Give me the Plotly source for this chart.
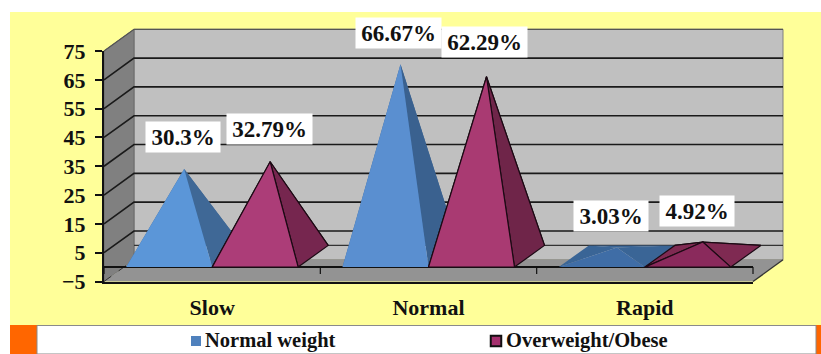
import plotly.graph_objects as go

categories = ["Slow", "Normal", "Rapid"]
normal_weight = [30.3, 66.67, 3.03]
overweight = [32.79, 62.29, 4.92]
normal_labels = ["30.3%", "66.67%", "3.03%"]
overweight_labels = ["32.79%", "62.29%", "4.92%"]
legend_names = ["Normal weight", "Overweight/Obese"]
y_ticks = [-5, 5, 15, 25, 35, 45, 55, 65, 75]

W, H = 821, 354
L, R, T, B = 104, 753, 51, 281.5
UX = (R - L) / 3                 # px per category
UY = (B - T) / 80                # px per value unit
DX = 30 / UX                     # depth in category units
DY = 21.7 / UY                   # depth in value units
BAR = 0.3975
FLOOR = y_ticks[0]
TOP = y_ticks[-1]
SERIF = "Liberation Serif"
INK = "#111111"


def px_x(p):
    return (p - L) / UX


def px_y(p):
    return FLOOR + (B - p) / UY


blue = dict(front=["#5b96d8", "#5a8fd0", "#3f6da6"], side=["#3f6896", "#3a618f", "#3a6596"],
            back=["#3a6596"] * 3, edge=None)
magenta = dict(front=["#ac3d78", "#a93a72", "#8a2a5c"], side=["#76264f", "#6f2549", "#7f2a52"],
               back=["#7f2a52"] * 3, edge="#1c0a14")

fig = go.Figure()


def poly(xs, ys, fill, edge=None, width=1.2):
    fig.add_trace(go.Scatter(
        x=xs + xs[:1], y=ys + ys[:1], mode="lines", fill="toself", fillcolor=fill,
        line=dict(color=edge or fill, width=width if edge else 0),
        hoverinfo="skip", showlegend=False))


def seg(xs, ys, color="#1a1a1a", width=1.6, dash="solid"):
    fig.add_trace(go.Scatter(
        x=xs, y=ys, mode="lines", line=dict(color=color, width=width, dash=dash),
        hoverinfo="skip", showlegend=False))


# walls and floor
poly([DX, 3 + DX, 3 + DX, DX], [FLOOR + DY, FLOOR + DY, TOP + DY, TOP + DY], "#c0c0c0", "#808080", 1)
poly([0, DX, DX, 0], [FLOOR, FLOOR + DY, TOP + DY, TOP], "#808080", "#6a6a6a", 1)
poly([0, 3, 3 + DX, DX], [FLOOR, FLOOR, FLOOR + DY, FLOOR + DY], "#939393")

# gridlines on side and back walls
for t in y_ticks[1:-1]:
    seg([0, DX, 3 + DX], [t, t + DY, t + DY])
seg([0, DX, 3 + DX], [TOP, TOP + DY, TOP + DY], "#555555", 1.2)
seg([DX, 3 + DX], [DY, DY], "#333333", 1.4)
seg([0, DX], [FLOOR, FLOOR + DY], "#333333", 1, "dash")
seg([3, 3 + DX], [FLOOR, FLOOR + DY], "#333333", 1.4)

# zero line and its tick marks
seg([0, 3], [0, 0], INK, 2)
for i in range(4):
    seg([i, i], [0, -2.4], INK, 1.2)


def pyramid(cat, side, value, c):
    x0 = cat + 0.5 + (side - 1) * BAR
    x1 = x0 + BAR
    ax = (x0 + x1) / 2 + DX / 2
    ay = value + DY / 2
    e = c["edge"]
    poly([x0 + DX, x1 + DX, ax], [DY, DY, ay], c["back"][cat], e)
    poly([x0, x0 + DX, ax], [0, DY, ay], c["back"][cat], e)
    poly([x1, x1 + DX, ax], [0, DY, ay], c["side"][cat], e)
    poly([x0, x1, ax], [0, 0, ay], c["front"][cat], e)
    return ax, ay


annotations = []
shifts = [(-1, 31.5), (-0.5, 32.5), (-2, 31.5), (-2.5, 34.7), (-6, 32), (-6, 31.5)]
k = 0
for cat in range(len(categories)):
    for side, (vals, labels, col) in enumerate(
            [(normal_weight, normal_labels, blue), (overweight, overweight_labels, magenta)]):
        ax, ay = pyramid(cat, side, vals[cat], col)
        sx, sy = shifts[k]
        k += 1
        annotations.append(dict(
            x=ax, y=ay, xref="x", yref="y", text=labels[cat], showarrow=False,
            xshift=sx, yshift=sy, bgcolor="white", borderpad=0,
            width=85 if len(labels[cat]) == 6 else 74,
            height=30, align="center", valign="middle",
            font=dict(family=SERIF, size=23, color=INK, weight=700)))

# legend keys and names in the white strip
key_x = [196, 496]
text_x = [205, 506]
key_style = [dict(symbol="square", size=10, color="#4f81bd"),
             dict(symbol="square", size=10.5, color="#a5306e", line=dict(color=INK, width=2))]
for name, kx, tx, style in zip(legend_names, key_x, text_x, key_style):
    fig.add_trace(go.Scatter(
        x=[px_x(kx)], y=[px_y(341)], mode="markers", marker=style,
        hoverinfo="skip", showlegend=False))
    fig.add_trace(go.Scatter(
        x=[px_x(tx)], y=[px_y(342)], mode="text", text=[name], textposition="middle right",
        hoverinfo="skip", showlegend=False,
        textfont=dict(family=SERIF, size=20.5, color=INK, weight=700)))

# carrier for the visible axes
fig.add_trace(go.Scatter(x=[None], y=[None], xaxis="x2", yaxis="y2", mode="markers",
                         hoverinfo="skip", showlegend=False))


def rect(x0, y0, x1, y1, fill, line=None):
    return dict(type="rect", xref="paper", yref="paper", layer="below",
                x0=x0 / W, x1=x1 / W, y0=1 - y1 / H, y1=1 - y0 / H,
                fillcolor=fill, line=dict(color=line or fill, width=1 if line else 0))


fig.update_layout(
    width=W, height=H, autosize=False, margin=dict(l=0, r=0, t=0, b=0, pad=0, autoexpand=False),
    paper_bgcolor="white", plot_bgcolor="rgba(0,0,0,0)", showlegend=False,
    shapes=[
        rect(10, 12, 821, 325, "#ffff99"),
        rect(10, 325, 821, 354, "#ff6600"),
        rect(37, 325.5, 816, 354, "white", "#8a8a8a"),
    ],
    annotations=annotations,
    # full-page axes carry the marks; same scale as the visible axes below
    xaxis=dict(domain=[0, 1], range=[px_x(0), px_x(W)], visible=False, fixedrange=True),
    yaxis=dict(domain=[0, 1], range=[px_y(H), px_y(0)], visible=False, fixedrange=True),
    xaxis2=dict(domain=[L / W, R / W], range=[0, 3], anchor="y2", tickmode="array",
                tickvals=[0.5, 1.5, 2.5], ticktext=categories, ticks="outside", ticklen=5,
                tickcolor="rgba(0,0,0,0)", showgrid=False, zeroline=False, showline=True,
                linecolor=INK, linewidth=2, fixedrange=True,
                tickfont=dict(family=SERIF, size=22, color=INK, weight=700)),
    yaxis2=dict(domain=[1 - B / H, 1 - T / H], range=[FLOOR, TOP], anchor="x2", tickmode="array",
                tickvals=y_ticks, ticks="outside", ticklen=7, tickwidth=1.5, tickcolor=INK,
                ticklabelstandoff=5, showgrid=False, zeroline=False, showline=True,
                linecolor=INK, linewidth=2, fixedrange=True,
                tickfont=dict(family=SERIF, size=22, color=INK, weight=700)),
)

fig.write_html("out.html", config=dict(displayModeBar=False),
               post_script="document.body.style.margin='0';document.body.style.overflow='hidden';")
